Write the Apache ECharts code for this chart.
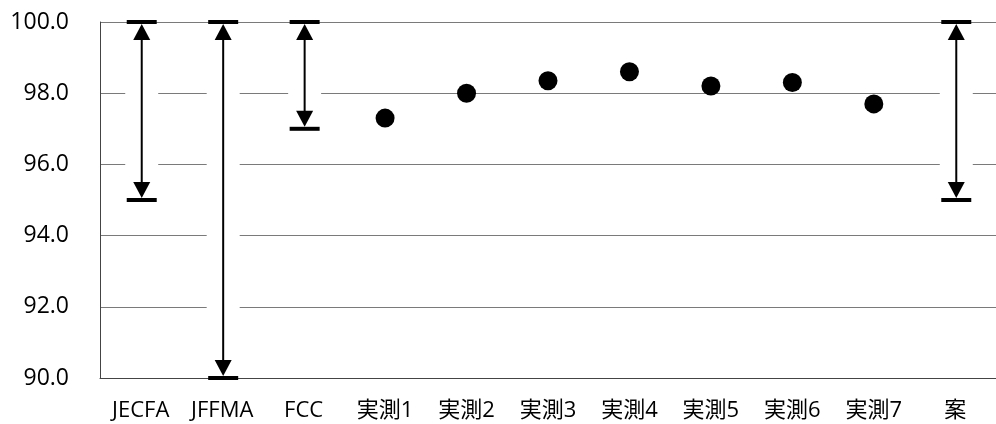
<!DOCTYPE html>
<html>
<head>
<meta charset="utf-8">
<script src="https://cdn.jsdelivr.net/npm/echarts@6/dist/echarts.min.js"></script>
<style>
html,body{margin:0;padding:0;background:#fff;}
#chart{width:996px;height:424px;}
</style>
</head>
<body>
<div id="chart"></div>
<script>
var categories = ['JECFA', 'JFFMA', 'FCC', '実測1', '実測2', '実測3', '実測4', '実測5', '実測6', '実測7', '案'];
var rangeLow  = [95, 90, 97, null, null, null, null, null, null, null, 95];
var rangeHigh = [100, 100, 100, null, null, null, null, null, null, null, 100];
var measured  = [null, null, null, 97.3, 98.0, 98.35, 98.6, 98.2, 98.3, 97.7, null];
var yTicks = { min: 90, max: 100, interval: 2 };

var rangeData = [];
categories.forEach(function (c, i) {
  if (rangeLow[i] != null) rangeData.push([i, rangeLow[i], rangeHigh[i]]);
});

var chart = echarts.init(document.getElementById('chart'));
var FONT = '"Open Sans", "Noto Sans CJK JP", sans-serif';

chart.setOption({
  animation: false,
  backgroundColor: '#fff',
  grid: { left: 100, top: 22, width: 904, height: 356 },
  xAxis: {
    type: 'category',
    data: categories,
    boundaryGap: true,
    axisLine: { show: true, lineStyle: { color: '#444', width: 1 } },
    axisTick: { show: false },
    axisLabel: { color: '#000', fontSize: 22, fontFamily: FONT, margin: 22, interval: 0 },
    splitLine: { show: false }
  },
  yAxis: {
    type: 'value',
    min: yTicks.min, max: yTicks.max, interval: yTicks.interval,
    axisLine: { show: true, lineStyle: { color: '#444', width: 1 } },
    axisTick: { show: false },
    axisLabel: { color: '#000', fontSize: 23, fontFamily: FONT, margin: 31,
      formatter: function (v) { return v.toFixed(1); } },
    splitLine: { show: true, lineStyle: { color: '#7a7a7a', width: 1 } }
  },
  series: [
    {
      type: 'custom',
      data: rangeData,
      z: 3,
      renderItem: function (params, api) {
        var x = api.coord([api.value(0), api.value(1)])[0] + 1;
        var yLow = api.coord([api.value(0), api.value(1)])[1];
        var yHigh = api.coord([api.value(0), api.value(2)])[1];
        var headH = 16, headW = 17, capW = 30, capH = 4, gapW = 33;
        return {
          type: 'group',
          children: [
            { type: 'rect', shape: { x: x - gapW / 2, y: yHigh + 2, width: gapW, height: yLow - yHigh - 4 },
              style: { fill: '#fff' } },
            { type: 'line', shape: { x1: x, y1: yHigh + headH, x2: x, y2: yLow - headH },
              style: { stroke: '#000', lineWidth: 2 } },
            { type: 'polygon', shape: { points: [[x, yHigh + 2], [x - headW / 2, yHigh + 2 + headH], [x + headW / 2, yHigh + 2 + headH]] },
              style: { fill: '#000' } },
            { type: 'polygon', shape: { points: [[x, yLow - 2], [x - headW / 2, yLow - 2 - headH], [x + headW / 2, yLow - 2 - headH]] },
              style: { fill: '#000' } },
            { type: 'rect', shape: { x: x - capW / 2, y: yHigh - capH / 2, width: capW, height: capH },
              style: { fill: '#000' } },
            { type: 'rect', shape: { x: x - capW / 2, y: yLow - capH / 2, width: capW, height: capH },
              style: { fill: '#000' } }
          ]
        };
      }
    },
    {
      type: 'scatter',
      data: measured,
      symbol: 'circle',
      symbolSize: 19,
      itemStyle: { color: '#000', opacity: 1 },
      z: 4
    }
  ]
});
</script>
</body>
</html>
